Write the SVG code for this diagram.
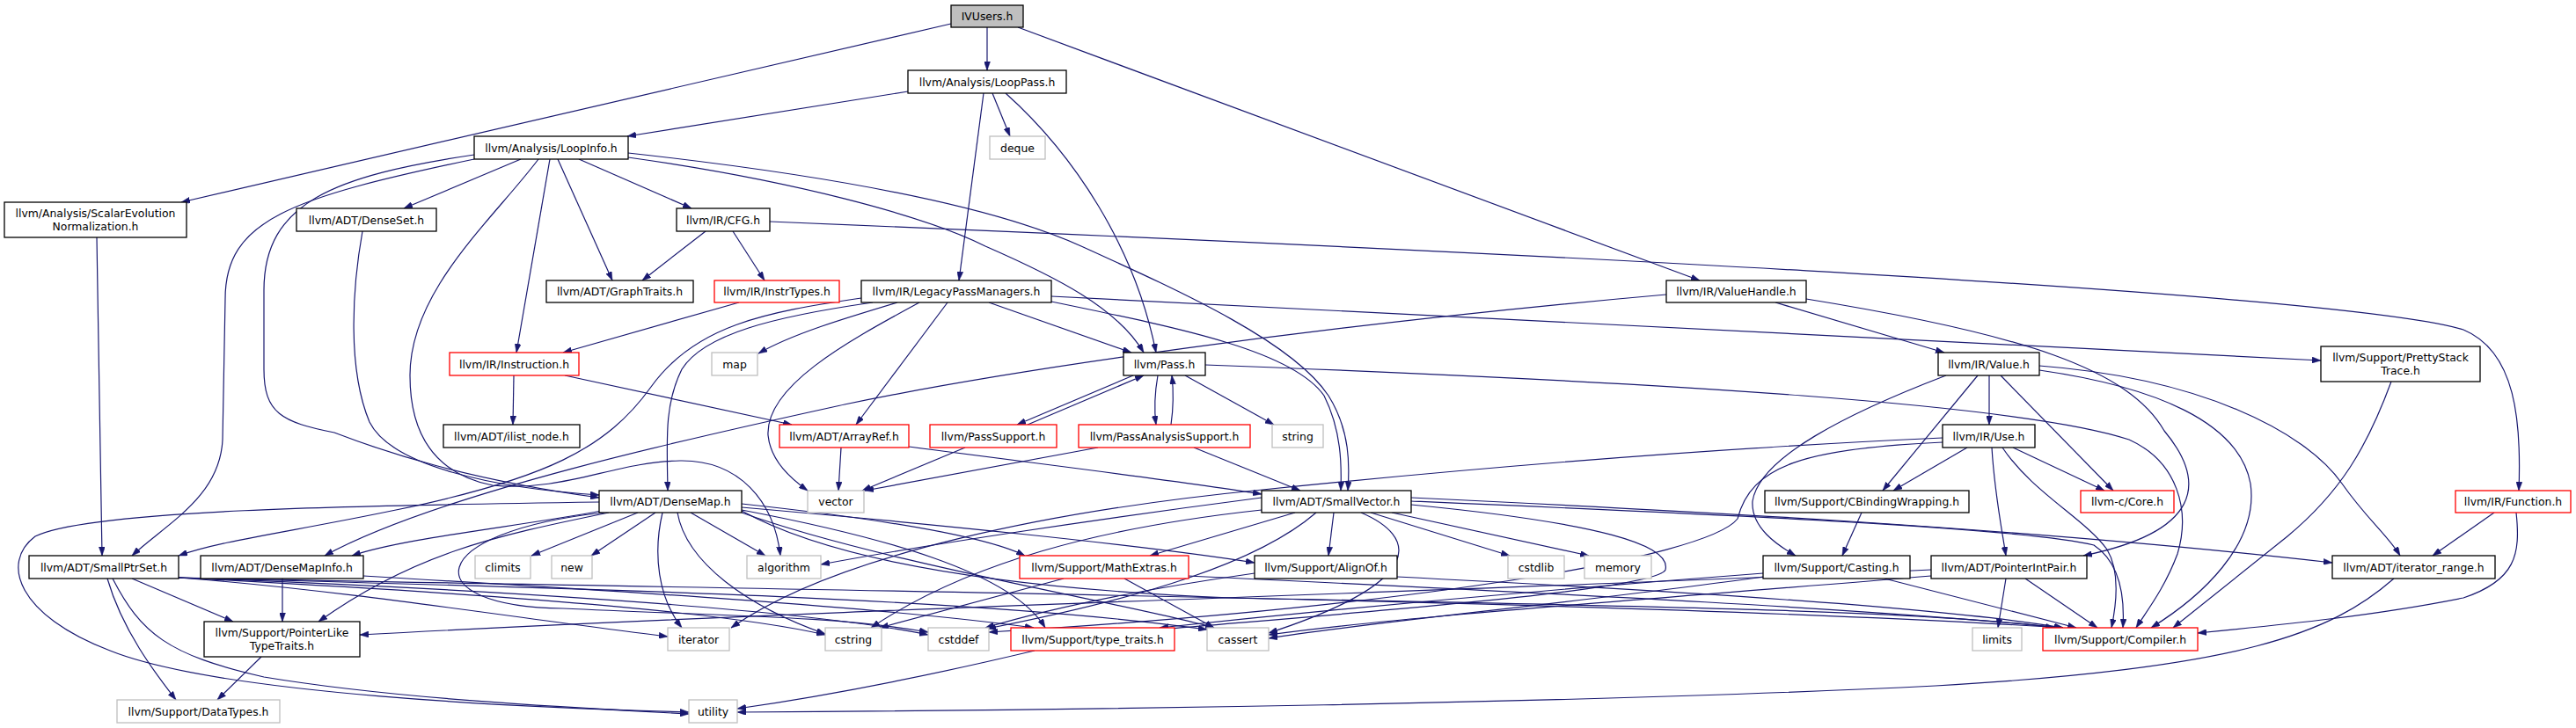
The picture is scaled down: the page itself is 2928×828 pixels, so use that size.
<svg xmlns="http://www.w3.org/2000/svg" width="2928" height="828" viewBox="0 0 2928 828">
<defs>
<marker id="a" viewBox="0 0 10 7" refX="10" refY="3.5" markerWidth="10" markerHeight="7" markerUnits="userSpaceOnUse" orient="auto"><path d="M0,0 L10,3.5 L0,7 z" fill="#191970" stroke="#191970" stroke-width="0.5"/></marker>
</defs>
<style>
.n rect{fill:#fff;stroke:#000;stroke-width:1.3}
.r rect{stroke:#ff0000}
.g rect{stroke:#bfbfbf}
.root rect{fill:#bfbfbf}
text{font-family:"DejaVu Sans","Liberation Sans",sans-serif;font-size:12.4px;text-anchor:middle;fill:#000}
#edges path{fill:none;stroke:#191970;stroke-width:1.2;marker-end:url(#a)}
</style>
<rect width="2928" height="828" fill="#fff"/>
<g id="edges">
<path d="M1122,31 L1122,80"/>
<path d="M1081,27 L206,230"/>
<path d="M1157,31 L1932,319"/>
<path d="M1032,104 L713,155"/>
<path d="M1128,106 L1148,155"/>
<path d="M1118,106 L1090,319"/>
<path d="M1143,106 C1220,175 1290,280 1314,401"/>
<path d="M539,181 C330,225 256,250 256,340 L253,500 C250,565 190,595 150,632"/>
<path d="M539,176 C380,200 300,230 300,330 L300,420 C300,470 320,480 380,492 C440,515 530,545 681,566"/>
<path d="M592,181 L459,237"/>
<path d="M612,181 C560,250 466,330 466,427 C466,500 500,540 560,552 C640,560 700,525 773,524 C840,523 880,570 887,632"/>
<path d="M625,181 L587,401"/>
<path d="M634,181 L696,319"/>
<path d="M658,181 L786,237"/>
<path d="M714,179 C900,205 1050,245 1120,280 C1200,315 1270,350 1300,401"/>
<path d="M714,174 C950,200 1130,235 1229,280 C1350,335 1470,390 1510,450 C1535,490 1534,530 1532,558"/>
<path d="M412,263 C400,330 395,420 420,480 C445,530 560,555 681,563"/>
<path d="M802,263 L730,319"/>
<path d="M833,263 L869,319"/>
<path d="M875,252 C1600,282 2650,330 2800,375 C2860,400 2866,480 2863,558"/>
<path d="M840,344 L640,401"/>
<path d="M584,427 L583,483"/>
<path d="M642,427 L900,483"/>
<path d="M1124,344 L1286,401"/>
<path d="M1077,344 L973,483"/>
<path d="M979,339 C870,355 790,370 740,440 C690,510 620,545 450,580 C330,605 250,615 203,632"/>
<path d="M992,344 C880,360 800,380 775,420 C755,460 758,500 759,558"/>
<path d="M1020,344 C960,362 900,380 862,402"/>
<path d="M1045,344 C960,390 870,440 873,495 C876,525 900,545 918,558"/>
<path d="M1195,337 L2638,410"/>
<path d="M1195,343 C1350,375 1470,400 1505,450 C1525,490 1525,530 1524,558"/>
<path d="M2018,344 L2210,401"/>
<path d="M1894,335 C1500,370 1150,420 960,460 C800,495 500,560 369,632"/>
<path d="M2053,340 C2300,380 2420,420 2460,490 C2510,550 2500,605 2368,632"/>
<path d="M2261,427 L2261,483"/>
<path d="M2248,427 L2140,558"/>
<path d="M2274,427 L2402,558"/>
<path d="M2212,427 C2100,470 2000,520 1992,570 C1990,600 2020,620 2041,632"/>
<path d="M2318,421 C2450,440 2545,480 2558,550 C2568,620 2500,680 2445,714"/>
<path d="M2318,416 C2500,430 2620,490 2662,550 C2690,590 2715,610 2728,632"/>
<path d="M2236,509 L2152,558"/>
<path d="M2288,509 L2392,558"/>
<path d="M2264,509 C2267,560 2275,600 2280,632"/>
<path d="M2276,509 C2310,560 2370,590 2395,625 C2410,650 2405,690 2400,714"/>
<path d="M2208,498 C1900,512 1600,540 1435,557 C1200,580 950,630 831,714"/>
<path d="M2208,503 C2050,510 1990,530 1975,590 C1940,635 1600,690 1124,719"/>
<path d="M1288,427 L1156,483"/>
<path d="M1168,483 L1300,427"/>
<path d="M1316,427 C1312,450 1312,468 1314,483"/>
<path d="M1331,483 C1334,462 1334,445 1332,427"/>
<path d="M1347,427 L1448,483"/>
<path d="M1370,415 C1900,435 2300,460 2420,500 C2475,525 2490,580 2475,630 C2460,670 2440,695 2428,714"/>
<path d="M1097,509 L980,558"/>
<path d="M1248,509 L983,558"/>
<path d="M1357,509 L1478,558"/>
<path d="M1033,508 C1200,530 1350,548 1434,562"/>
<path d="M956,509 L953,558"/>
<path d="M2116,583 L2094,632"/>
<path d="M110,270 C112,400 115,550 116,632"/>
<path d="M684,581 C580,600 460,612 400,632"/>
<path d="M681,571 C400,575 100,580 40,610 C0,640 20,700 125,740 C250,790 600,805 783,810"/>
<path d="M692,583 C560,610 470,630 362,707"/>
<path d="M725,583 L604,632"/>
<path d="M745,583 L672,632"/>
<path d="M785,583 L870,632"/>
<path d="M753,583 C742,630 748,680 775,714"/>
<path d="M770,583 C780,640 850,690 938,721"/>
<path d="M687,583 C480,605 470,690 640,692 C800,700 950,700 1055,719"/>
<path d="M843,573 C1000,590 1120,610 1165,632"/>
<path d="M843,580 C1000,610 1150,650 1188,714"/>
<path d="M843,577 C1050,595 1300,620 1426,640"/>
<path d="M843,583 C1000,640 1300,690 1380,714"/>
<path d="M843,581 C950,640 1150,670 1400,680 C1900,690 2200,695 2335,714"/>
<path d="M150,658 L265,707"/>
<path d="M122,658 C140,720 180,770 200,796"/>
<path d="M128,658 C160,720 190,745 300,770 C450,795 650,805 783,812"/>
<path d="M203,657 C400,672 600,705 759,724"/>
<path d="M203,657 C450,670 800,690 938,722"/>
<path d="M203,657 C500,668 900,690 1055,722"/>
<path d="M203,657 C600,668 1100,678 1372,716"/>
<path d="M203,657 C800,670 1800,680 2345,714"/>
<path d="M321,658 L321,707"/>
<path d="M413,655 C700,672 1000,690 1175,714"/>
<path d="M297,747 L247,796"/>
<path d="M2195,648 C1800,668 1000,690 409,722"/>
<path d="M1209,658 L1000,714"/>
<path d="M1278,658 L1380,714"/>
<path d="M1351,655 C1700,672 2100,690 2345,714"/>
<path d="M1426,652 C1300,670 1200,690 1120,714"/>
<path d="M1588,656 C1900,672 2200,690 2345,714"/>
<path d="M1176,740 C1050,770 950,790 838,806"/>
<path d="M2142,658 L2360,714"/>
<path d="M2004,652 C1700,675 1450,700 1318,714"/>
<path d="M2004,656 C1800,685 1550,708 1442,726"/>
<path d="M2280,658 L2271,714"/>
<path d="M2302,658 L2384,714"/>
<path d="M2195,655 C1900,680 1600,700 1442,722"/>
<path d="M2721,658 C2650,720 2550,760 2200,780 C1800,800 1200,808 838,810"/>
<path d="M2835,583 L2765,632"/>
<path d="M2860,583 C2865,630 2860,660 2800,680 C2700,700 2600,710 2498,720"/>
<path d="M2718,434 C2690,510 2660,560 2600,610 C2550,650 2500,690 2470,714"/>
<path d="M1472,583 L1307,632"/>
<path d="M1516,583 L1510,632"/>
<path d="M1558,583 L1716,632"/>
<path d="M1582,583 L1806,632"/>
<path d="M1547,583 C1610,610 1625,660 1442,720"/>
<path d="M1434,566 C1250,590 1050,620 933,642"/>
<path d="M1434,580 C1250,600 1100,640 990,714"/>
<path d="M1496,583 C1430,640 1300,680 1122,715"/>
<path d="M1604,574 C1820,595 1900,620 1893,648 C1885,672 1500,700 1318,716"/>
<path d="M1604,566 C1900,580 2300,600 2651,640"/>
<path d="M1604,570 C1950,585 2300,600 2380,620 C2410,640 2415,680 2413,714"/>
</g>
<g id="ivusers" class="n root"><rect x="1081" y="6" width="82" height="25"/><text x="1122" y="23">IVUsers.h</text></g>
<g id="looppass" class="n"><rect x="1032" y="80" width="180" height="26"/><text x="1122" y="97.5">llvm/Analysis/LoopPass.h</text></g>
<g id="scalarevolutionnormalization" class="n"><rect x="5" y="230" width="207" height="40"/><text x="108.5" y="246.5">llvm/Analysis/ScalarEvolution</text><text x="108.5" y="261.5">Normalization.h</text></g>
<g id="loopinfo" class="n"><rect x="539" y="155" width="175" height="26"/><text x="626.5" y="172.5">llvm/Analysis/LoopInfo.h</text></g>
<g id="deque" class="n g"><rect x="1125" y="155" width="63" height="26"/><text x="1156.5" y="172.5">deque</text></g>
<g id="denseset" class="n"><rect x="337" y="237" width="159" height="26"/><text x="416.5" y="254.5">llvm/ADT/DenseSet.h</text></g>
<g id="cfg" class="n"><rect x="769" y="237" width="106" height="26"/><text x="822" y="254.5">llvm/IR/CFG.h</text></g>
<g id="graphtraits" class="n"><rect x="621" y="319" width="167" height="25"/><text x="704.5" y="336">llvm/ADT/GraphTraits.h</text></g>
<g id="instrtypes" class="n r"><rect x="812" y="319" width="142" height="25"/><text x="883" y="336">llvm/IR/InstrTypes.h</text></g>
<g id="legacypassmanagers" class="n"><rect x="979" y="319" width="216" height="25"/><text x="1087" y="336">llvm/IR/LegacyPassManagers.h</text></g>
<g id="valuehandle" class="n"><rect x="1894" y="319" width="159" height="25"/><text x="1973.5" y="336">llvm/IR/ValueHandle.h</text></g>
<g id="instruction" class="n r"><rect x="511" y="401" width="147" height="26"/><text x="584.5" y="418.5">llvm/IR/Instruction.h</text></g>
<g id="map" class="n g"><rect x="809" y="401" width="52" height="26"/><text x="835" y="418.5">map</text></g>
<g id="pass" class="n"><rect x="1277" y="401" width="93" height="26"/><text x="1323.5" y="418.5">llvm/Pass.h</text></g>
<g id="value" class="n"><rect x="2203" y="401" width="115" height="26"/><text x="2260.5" y="418.5">llvm/IR/Value.h</text></g>
<g id="prettystacktrace" class="n"><rect x="2638" y="394" width="181" height="40"/><text x="2728.5" y="411">llvm/Support/PrettyStack</text><text x="2728.5" y="426">Trace.h</text></g>
<g id="ilist_node" class="n"><rect x="504" y="483" width="155" height="26"/><text x="581.5" y="500.5">llvm/ADT/ilist_node.h</text></g>
<g id="arrayref" class="n r"><rect x="886" y="483" width="147" height="26"/><text x="959.5" y="500.5">llvm/ADT/ArrayRef.h</text></g>
<g id="passsupport" class="n r"><rect x="1057" y="483" width="144" height="26"/><text x="1129" y="500.5">llvm/PassSupport.h</text></g>
<g id="passanalysissupport" class="n r"><rect x="1226" y="483" width="195" height="26"/><text x="1323.5" y="500.5">llvm/PassAnalysisSupport.h</text></g>
<g id="string" class="n g"><rect x="1446" y="483" width="58" height="26"/><text x="1475" y="500.5">string</text></g>
<g id="use" class="n"><rect x="2208" y="483" width="105" height="26"/><text x="2260.5" y="500.5">llvm/IR/Use.h</text></g>
<g id="densemap" class="n"><rect x="681" y="558" width="162" height="25"/><text x="762" y="575">llvm/ADT/DenseMap.h</text></g>
<g id="vector" class="n g"><rect x="918" y="558" width="64" height="25"/><text x="950" y="575">vector</text></g>
<g id="smallvector" class="n"><rect x="1434" y="558" width="170" height="25"/><text x="1519" y="575">llvm/ADT/SmallVector.h</text></g>
<g id="cbindingwrapping" class="n"><rect x="2006" y="558" width="232" height="25"/><text x="2122" y="575">llvm/Support/CBindingWrapping.h</text></g>
<g id="core" class="n r"><rect x="2365" y="558" width="106" height="25"/><text x="2418" y="575">llvm-c/Core.h</text></g>
<g id="function" class="n r"><rect x="2791" y="558" width="131" height="25"/><text x="2856.5" y="575">llvm/IR/Function.h</text></g>
<g id="smallptrset" class="n"><rect x="33" y="632" width="170" height="26"/><text x="118" y="649.5">llvm/ADT/SmallPtrSet.h</text></g>
<g id="densemapinfo" class="n"><rect x="228" y="632" width="185" height="26"/><text x="320.5" y="649.5">llvm/ADT/DenseMapInfo.h</text></g>
<g id="climits" class="n g"><rect x="540" y="632" width="63" height="26"/><text x="571.5" y="649.5">climits</text></g>
<g id="new" class="n g"><rect x="627" y="632" width="46" height="26"/><text x="650" y="649.5">new</text></g>
<g id="algorithm" class="n g"><rect x="849" y="632" width="84" height="26"/><text x="891" y="649.5">algorithm</text></g>
<g id="mathextras" class="n r"><rect x="1159" y="632" width="192" height="26"/><text x="1255" y="649.5">llvm/Support/MathExtras.h</text></g>
<g id="alignof" class="n"><rect x="1426" y="632" width="162" height="26"/><text x="1507" y="649.5">llvm/Support/AlignOf.h</text></g>
<g id="cstdlib" class="n g"><rect x="1714" y="632" width="64" height="26"/><text x="1746" y="649.5">cstdlib</text></g>
<g id="memory" class="n g"><rect x="1801" y="632" width="76" height="26"/><text x="1839" y="649.5">memory</text></g>
<g id="casting" class="n"><rect x="2004" y="632" width="167" height="26"/><text x="2087.5" y="649.5">llvm/Support/Casting.h</text></g>
<g id="pointerintpair" class="n"><rect x="2195" y="632" width="177" height="26"/><text x="2283.5" y="649.5">llvm/ADT/PointerIntPair.h</text></g>
<g id="iterator_range" class="n"><rect x="2651" y="632" width="185" height="26"/><text x="2743.5" y="649.5">llvm/ADT/iterator_range.h</text></g>
<g id="pointerliketypetraits" class="n"><rect x="232" y="707" width="177" height="40"/><text x="320.5" y="724">llvm/Support/PointerLike</text><text x="320.5" y="739">TypeTraits.h</text></g>
<g id="iterator" class="n g"><rect x="759" y="714" width="70" height="26"/><text x="794" y="731.5">iterator</text></g>
<g id="cstring" class="n g"><rect x="938" y="714" width="64" height="26"/><text x="970" y="731.5">cstring</text></g>
<g id="cstddef" class="n g"><rect x="1055" y="714" width="69" height="26"/><text x="1089.5" y="731.5">cstddef</text></g>
<g id="type_traits" class="n r"><rect x="1149" y="714" width="186" height="26"/><text x="1242" y="731.5">llvm/Support/type_traits.h</text></g>
<g id="cassert" class="n g"><rect x="1372" y="714" width="70" height="26"/><text x="1407" y="731.5">cassert</text></g>
<g id="limits" class="n g"><rect x="2242" y="714" width="56" height="26"/><text x="2270" y="731.5">limits</text></g>
<g id="compiler" class="n r"><rect x="2322" y="714" width="176" height="26"/><text x="2410" y="731.5">llvm/Support/Compiler.h</text></g>
<g id="datatypes" class="n g"><rect x="133" y="796" width="185" height="26"/><text x="225.5" y="813.5">llvm/Support/DataTypes.h</text></g>
<g id="utility" class="n g"><rect x="783" y="796" width="55" height="26"/><text x="810.5" y="813.5">utility</text></g>
</svg>
